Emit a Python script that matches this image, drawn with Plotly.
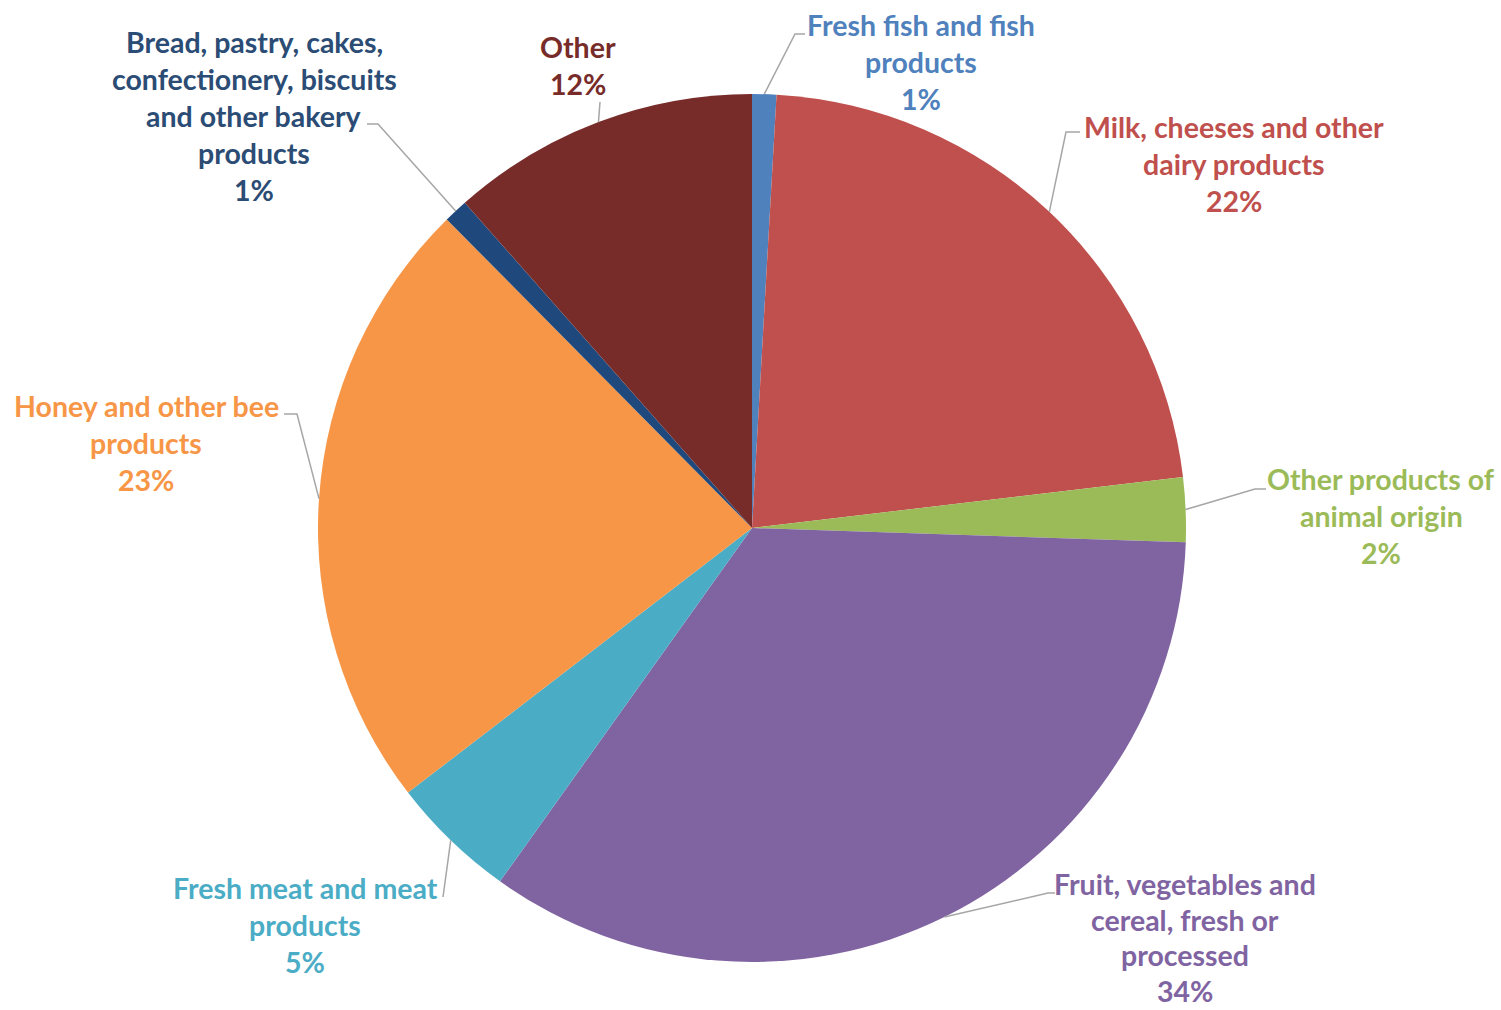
import math
import plotly.graph_objects as go

# ---- data ----
categories = [
    "Fresh fish and fish products",
    "Milk, cheeses and other dairy products",
    "Other products of animal origin",
    "Fruit, vegetables and cereal, fresh or processed",
    "Fresh meat and meat products",
    "Honey and other bee products",
    "Bread, pastry, cakes, confectionery, biscuits and other bakery products",
    "Other",
]
values = [0.9, 22.2, 2.4, 34.3, 4.7, 23.0, 0.9, 11.5]
label_lines = [
    ["Fresh fish and fish", "products"],
    ["Milk, cheeses and other", "dairy products"],
    ["Other products of", "animal origin"],
    ["Fruit, vegetables and", "cereal, fresh or", "processed"],
    ["Fresh meat and meat", "products"],
    ["Honey and other bee", "products"],
    ["Bread, pastry, cakes,", "confectionery, biscuits", "and other bakery", "products"],
    ["Other"],
]

# ---- styles / layout ----
colors = ["#4F81BD", "#C0504D", "#9BBB59", "#8064A2", "#4BACC6", "#F79646", "#1F497D", "#772C2A"]
text_colors = ["#4F81BD", "#C0504D", "#9BBB59", "#8064A2", "#4BACC6", "#F79646", "#2B4C74", "#772C2A"]

W, H = 1501, 1010
CX, CY, R = 752, 528, 434
FONT = "Lato"
FSIZE = 28.5

# label block placement (pixel): center x, first line center y, line spacing, leader path after anchor
label_pos = [
    (921, 25, 37, [(795, 34), (805, 34)]),
    (1234, 127, 37, [(1066, 132), (1080, 132)]),
    (1381, 479, 37, [(1255, 489), (1266, 489)]),
    (1185, 884, 35.5, [(1048, 893), (1055, 893)]),
    (305, 888, 37, [(443, 897)]),
    (146, 406, 37, [(297, 414), (284, 414)]),
    (254, 42, 37, [(378, 124), (367, 124)]),
    (578, 47, 37, [(600, 102)]),
]

def px(x):
    return x / W

def py(y):
    return 1 - y / H

fig = go.Figure()
fig.add_trace(go.Pie(
    labels=categories,
    values=values,
    sort=False,
    direction="clockwise",
    rotation=0,
    marker=dict(colors=colors, line=dict(width=0)),
    textinfo="none",
    hoverinfo="label+percent",
    showlegend=False,
    domain=dict(x=[px(CX - R), px(CX + R)], y=[py(CY + R), py(CY - R)]),
))

total = sum(values)
cum = 0.0
annotations = []
shapes = []
for i, v in enumerate(values):
    mid = (cum + v / 2) / total * 2 * math.pi
    cum += v
    ax = CX + R * math.sin(mid)
    ay = CY - R * math.cos(mid)
    lx, ly, lh, path_pts = label_pos[i]
    pts = [(ax, ay)] + path_pts
    path = "M " + " L ".join(f"{px(x)},{py(y)}" for x, y in pts)
    shapes.append(dict(type="path", xref="paper", yref="paper", path=path,
                       line=dict(color="#A6A6A6", width=1.5)))
    lines = label_lines[i] + [f"{round(v / total * 100)}%"]
    for k, t in enumerate(lines):
        annotations.append(dict(
            x=px(lx), y=py(ly + k * lh), xref="paper", yref="paper",
            text=f"<b>{t}</b>", showarrow=False, xanchor="center", yanchor="middle",
            borderpad=0,
            font=dict(family=FONT, size=FSIZE, color=text_colors[i]),
        ))

fig.update_layout(
    width=W, height=H,
    margin=dict(l=0, r=0, t=0, b=0),
    paper_bgcolor="white", plot_bgcolor="white",
    annotations=annotations, shapes=shapes,
)

fig.write_html(
    "out.html",
    config={"displayModeBar": False},
    post_script="document.body.style.margin='0';document.body.style.overflow='hidden';",
)
